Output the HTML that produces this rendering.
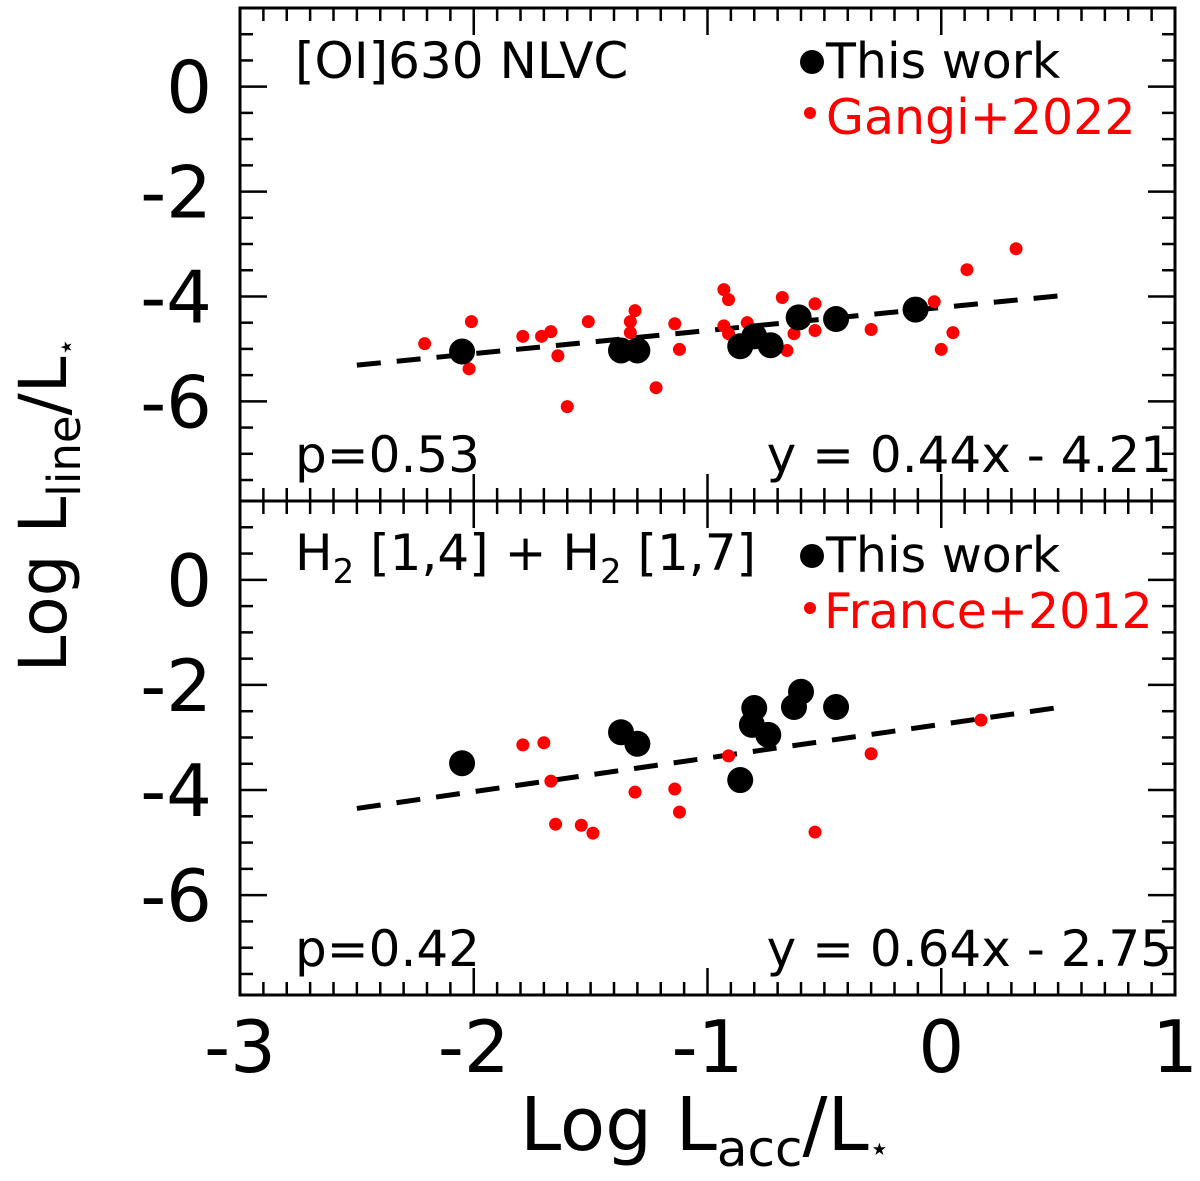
<!DOCTYPE html>
<html><head><meta charset="utf-8"><style>
html,body{margin:0;padding:0;background:#fff;}
svg text{font-family:"DejaVu Sans","Liberation Sans",sans-serif;}
</style></head><body>
<svg id="chart" width="1200" height="1176" viewBox="0 0 1200 1176" xmlns="http://www.w3.org/2000/svg">
<g id="axes"></g>
<g id="marks"></g>
<text transform="translate(66,505) rotate(-90)" text-anchor="middle" font-size="66">Log L<tspan font-size="45" dy="14">line</tspan><tspan dy="-14">/L</tspan><tspan font-size="30" dy="10">⋆</tspan></text>
<text x="705" y="1150" text-anchor="middle" font-size="74">Log L<tspan font-size="50" dy="16">acc</tspan><tspan dy="-16">/L</tspan><tspan font-size="34" dy="10">⋆</tspan></text>
<text x="295" y="78" font-size="50">[OI]630 NLVC</text>
<text x="295" y="472" font-size="50">p=0.53</text>
<text x="1172" y="472" text-anchor="end" font-size="50">y = 0.44x - 4.21</text>
<circle cx="812" cy="62" r="12" fill="#000"/>
<text x="826" y="78" font-size="49">This work</text>
<circle cx="810" cy="113" r="6" fill="#f00"/>
<text x="826" y="134" font-size="49" fill="#f00">Gangi+2022</text>
<text x="295" y="570" font-size="50">H<tspan font-size="34" dy="13">2</tspan><tspan dy="-13"> [1,4] + H</tspan><tspan font-size="34" dy="13">2</tspan><tspan dy="-13"> [1,7]</tspan></text>
<text x="295" y="966" font-size="50">p=0.42</text>
<text x="1172" y="966" text-anchor="end" font-size="50">y = 0.64x - 2.75</text>
<circle cx="812" cy="556" r="12" fill="#000"/>
<text x="826" y="572" font-size="49">This work</text>
<circle cx="810" cy="608" r="6" fill="#f00"/>
<text x="824" y="628" font-size="49" fill="#f00">France+2012</text>
</svg>
<script>
const xTicks=[-3,-2,-1,0,1];
const yTicks=[0,-2,-4,-6];
const topBlackX=[-2.05,-1.37,-1.30,-0.86,-0.80,-0.73,-0.61,-0.45,-0.11];
const topBlackY=[-5.05,-5.03,-5.03,-4.95,-4.76,-4.93,-4.40,-4.43,-4.25];
const topRedX=[-2.21,-2.01,-2.02,-1.79,-1.71,-1.67,-1.64,-1.51,-1.31,-1.33,-1.33,-1.22,-1.60,-1.14,-1.12,-0.93,-0.91,-0.93,-0.91,-0.83,-0.68,-0.63,-0.66,-0.54,-0.54,-0.30,-0.03,0.05,0.00,0.11,0.32];
const topRedY=[-4.90,-4.48,-5.38,-4.76,-4.76,-4.67,-5.13,-4.48,-4.27,-4.48,-4.69,-5.74,-6.10,-4.52,-5.01,-3.87,-4.06,-4.56,-4.71,-4.50,-4.02,-4.71,-5.03,-4.14,-4.65,-4.63,-4.10,-4.69,-5.01,-3.49,-3.09];
const botBlackX=[-2.05,-1.37,-1.30,-0.80,-0.81,-0.74,-0.60,-0.63,-0.45,-0.86];
const botBlackY=[-3.49,-2.90,-3.12,-2.44,-2.76,-2.95,-2.13,-2.42,-2.42,-3.81];
const botRedX=[-1.79,-1.70,-1.67,-1.65,-1.54,-1.49,-1.31,-1.14,-1.12,-0.91,-0.54,-0.30,0.17];
const botRedY=[-3.14,-3.10,-3.83,-4.65,-4.67,-4.82,-4.04,-3.98,-4.42,-3.35,-4.80,-3.31,-2.67];
const fitTop=[0.44,-4.21];
const fitBot=[0.64,-2.75];
const fitRange=[-2.5,0.5];

const NS="http://www.w3.org/2000/svg";
const X0=240,X1=1175,XMIN=-3,XMAX=1,YMIN=-7.9,YMAX=1.5;
const panels=[{top:8,bot:501},{top:501,bot:995}];
const sx=v=>X0+(v-XMIN)/(XMAX-XMIN)*(X1-X0);
const syf=p=>v=>p.top+(YMAX-v)/(YMAX-YMIN)*(p.bot-p.top);
const axes=document.getElementById('axes'),marks=document.getElementById('marks');
function mk(tag,attrs,parent){const e=document.createElementNS(NS,tag);for(const k in attrs)e.setAttribute(k,attrs[k]);parent.appendChild(e);return e;}
function line(x1,y1,x2,y2,parent,w){return mk('line',{x1,y1,x2,y2,stroke:'#000','stroke-width':w||2.5},parent);}

panels.forEach((p,pi)=>{
  const sy=syf(p);
  const fr=mk('rect',{x:X0,y:p.top,width:X1-X0,height:p.bot-p.top,fill:'none',stroke:'#000','stroke-width':3},axes);
  
  
  for(let i=-30;i<=10;i++){const v=i/10;const x=sx(v);const L=(i%10===0)?27:13;
    line(x,p.bot,x,p.bot-L,axes);line(x,p.top,x,p.top+L,axes);}
  for(let i=-15;i<=3;i++){const v=i/2;const y=sy(v);if(y<p.top||y>p.bot)continue;const L=(i%4===0)?27:13;
    line(X0,y,X0+L,y,axes);line(X1,y,X1-L,y,axes);}
  yTicks.forEach(v=>{const t=mk('text',{x:212,y:sy(v)+26,'text-anchor':'end','font-size':72},axes);t.textContent=String(v);
    
    });
});
xTicks.forEach(v=>{const t=mk('text',{x:sx(v),y:1072,'text-anchor':'middle','font-size':72},axes);t.textContent=String(v);
  
  });

function fit(f,p,name){const sy=syf(p);const l=mk('line',{x1:sx(fitRange[0]),y1:sy(f[0]*fitRange[0]+f[1]),x2:sx(fitRange[1]),y2:sy(f[0]*fitRange[1]+f[1]),stroke:'#000','stroke-width':5,'stroke-dasharray':'24,16'},marks);
  
  }
function pts(xs,ys,p,r,col,name){const sy=syf(p);xs.forEach((x,i)=>{const c=mk('circle',{cx:sx(x),cy:sy(ys[i]),r,fill:col},marks);
  
  });}
fit(fitTop,panels[0],'top-fit-line');
fit(fitBot,panels[1],'bottom-fit-line');
pts(topRedX,topRedY,panels[0],6.5,'#f00','gangi-point');
pts(topBlackX,topBlackY,panels[0],13,'#000','this-work-point-top');
pts(botRedX,botRedY,panels[1],6.5,'#f00','france-point');
pts(botBlackX,botBlackY,panels[1],13,'#000','this-work-point-bottom');
</script>
</body></html>
